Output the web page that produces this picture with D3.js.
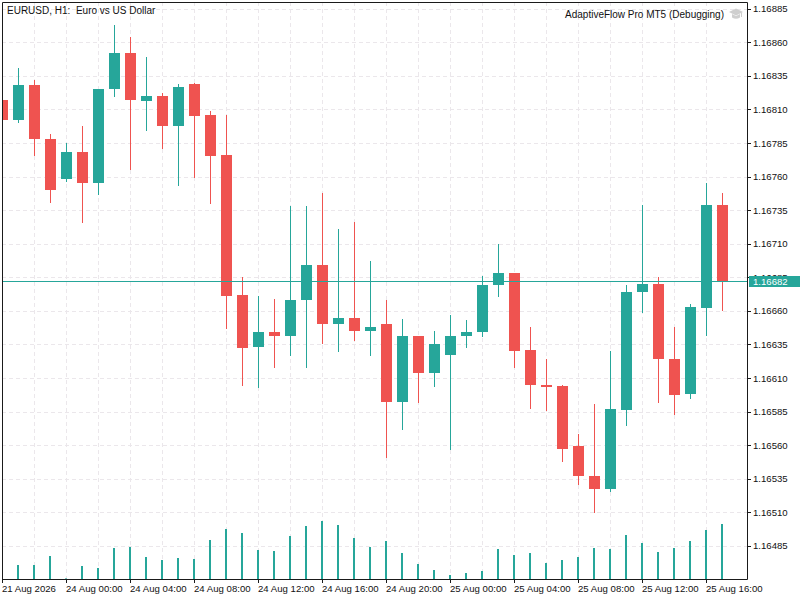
<!DOCTYPE html>
<html>
<head>
  <style>
    body {
      margin: 0;
      background: white;
    }
    svg text {
      font-family: "Liberation Sans", Arial, sans-serif;
      fill: #111;
    }
  </style>
</head>
<body>
  <div id="chart"></div>
  <script src="https://d3js.org/d3.v7.min.js"></script>
  <script>
    var width = 800, height = 600;

    // EURUSD H1 bars, first one is 21 Aug 20:00
    var opens  = [1.16817,1.16802,1.16828,1.16788,1.16758,1.16778,1.16755,1.16825,1.16852,1.16816,1.16820,1.16798,1.16829,1.16806,1.16776,1.16672,1.16633,1.16644,1.16641,1.16668,1.16694,1.16650,1.16655,1.16645,1.16650,1.16592,1.16641,1.16614,1.16627,1.16641,1.16644,1.16679,1.16688,1.16631,1.16605,1.16604,1.16559,1.16537,1.16527,1.16586,1.16674,1.16680,1.16624,1.16598,1.16662,1.16739];
    var highs  = [1.16817,1.16841,1.16832,1.16792,1.16785,1.16798,1.16825,1.16873,1.16864,1.16849,1.16822,1.16829,1.16830,1.16809,1.16806,1.16685,1.16671,1.16669,1.16738,1.16738,1.16748,1.16721,1.16726,1.16697,1.16668,1.16654,1.16641,1.16645,1.16657,1.16653,1.16686,1.16710,1.16688,1.16648,1.16624,1.16605,1.16568,1.16591,1.16630,1.16679,1.16739,1.16685,1.16648,1.16665,1.16755,1.16748];
    var lows   = [1.16802,1.16801,1.16776,1.16741,1.16757,1.16726,1.16747,1.16820,1.16766,1.16795,1.16781,1.16754,1.16760,1.16740,1.16647,1.16605,1.16603,1.16618,1.16627,1.16618,1.16636,1.16630,1.16638,1.16627,1.16551,1.16572,1.16592,1.16604,1.16557,1.16633,1.16641,1.16671,1.16618,1.16588,1.16586,1.16548,1.16531,1.16510,1.16526,1.16575,1.16659,1.16592,1.16583,1.16595,1.16642,1.16661];
    var closes = [1.16802,1.16828,1.16788,1.16750,1.16778,1.16755,1.16825,1.16852,1.16817,1.16820,1.16798,1.16827,1.16805,1.16775,1.16671,1.16632,1.16644,1.16641,1.16668,1.16694,1.16650,1.16655,1.16645,1.16648,1.16592,1.16641,1.16614,1.16635,1.16641,1.16644,1.16679,1.16688,1.16630,1.16605,1.16603,1.16557,1.16537,1.16527,1.16587,1.16674,1.16680,1.16624,1.16597,1.16663,1.16739,1.16682];
    var volumes = [700,700,700,1150,30,650,550,1550,1600,1100,950,1050,1000,1950,2500,2300,1450,1400,2150,2650,2900,2700,2050,1600,1900,1300,750,450,200,300,400,1500,1200,1300,800,950,1100,1550,1500,2200,1800,1350,1550,1900,2450,2750];

    var timeTickIdx = [0,4,8,12,16,20,24,28,32,36,40,44];
    var timeTickLabels = ["21 Aug 2026","24 Aug 00:00","24 Aug 04:00","24 Aug 08:00","24 Aug 12:00","24 Aug 16:00","24 Aug 20:00","25 Aug 00:00","25 Aug 04:00","25 Aug 08:00","25 Aug 12:00","25 Aug 16:00"];
    var priceTicks = [1.16885,1.16860,1.16835,1.16810,1.16785,1.16760,1.16735,1.16710,1.16685,1.16660,1.16635,1.16610,1.16585,1.16560,1.16535,1.16510,1.16485];
    var lastPrice = 1.16682;

    var green = "#26a69a", red = "#ef5350";
    // plot frame (don't call these top/left, window.top is read-only)
    var pL = 2, pT = 2, pR = 747, pB = 579;

    var data = opens.map((o, i) => ({i: i, o: o, h: highs[i], l: lows[i], c: closes[i], v: volumes[i]}));

    var x = d3.scaleLinear().domain([0, 45]).range([2, 722]);
    var y = d3.scaleLinear().domain([1.16485, 1.16885]).range([545.85, 8.73]);
    var yVol = d3.scaleLinear().domain([0, 5000]).range([pB, pB - 100]);

    var svg = d3.select("#chart").append("svg")
        .attr("width", width).attr("height", height);

    svg.append("defs").append("clipPath").attr("id", "plot")
      .append("rect").attr("x", pL + 0.5).attr("y", pT + 0.5)
        .attr("width", pR - pL - 0.5).attr("height", pB - pT - 0.5);

    // grid
    var grid = svg.append("g").attr("stroke", "#ebe7eb").attr("stroke-dasharray", "4,3");
    grid.selectAll("line.h").data(priceTicks).enter().append("line")
        .attr("x1", pL).attr("x2", pR)
        .attr("y1", d => Math.round(y(d)) + 0.5).attr("y2", d => Math.round(y(d)) + 0.5);
    grid.selectAll("line.v").data(d3.range(2, 46, 2)).enter().append("line")
        .attr("x1", d => x(d) + 0.5).attr("x2", d => x(d) + 0.5)
        .attr("y1", pT).attr("y2", pB);

    var plot = svg.append("g").attr("clip-path", "url(#plot)");

    // volumes
    plot.selectAll("rect.vol").data(data).enter().append("rect")
        .attr("x", d => x(d.i) - 1).attr("width", 2)
        .attr("y", d => yVol(d.v)).attr("height", d => pB - yVol(d.v))
        .attr("fill", green);

    // candles
    var candle = plot.selectAll("g.candle").data(data).enter().append("g");
    candle.append("line")
        .attr("x1", d => x(d.i) + 0.5).attr("x2", d => x(d.i) + 0.5)
        .attr("y1", d => Math.round(y(d.h))).attr("y2", d => Math.round(y(d.l)) + 1)
        .attr("stroke", d => d.c >= d.o ? green : red);
    candle.append("rect")
        .attr("x", d => x(d.i) - 5).attr("width", 11)
        .attr("y", d => Math.round(y(Math.max(d.o, d.c))))
        .attr("height", d => Math.max(1, Math.round(y(Math.min(d.o, d.c))) - Math.round(y(Math.max(d.o, d.c)))))
        .attr("fill", d => d.c >= d.o ? green : red);

    // last price line
    svg.append("line")
        .attr("x1", pL).attr("x2", pR)
        .attr("y1", Math.round(y(lastPrice)) + 0.5).attr("y2", Math.round(y(lastPrice)) + 0.5)
        .attr("stroke", green);

    // frame
    svg.append("path")
        .attr("d", "M" + (pL + 0.5) + "," + (pB + 0.5) + "V" + (pT + 0.5) + "H" + (pR + 0.5) + "V" + (pB + 0.5) + "H" + (pL + 0.5))
        .attr("fill", "none").attr("stroke", "#1a1a1a");

    // price axis
    var pa = svg.append("g");
    pa.selectAll("line").data(priceTicks).enter().append("line")
        .attr("x1", pR).attr("x2", pR + 4)
        .attr("y1", d => Math.round(y(d)) + 0.5).attr("y2", d => Math.round(y(d)) + 0.5)
        .attr("stroke", "#1a1a1a");
    pa.selectAll("text").data(priceTicks).enter().append("text")
        .attr("x", pR + 6).attr("y", d => y(d) + 3.6)
        .attr("font-size", "9.6px")
        .text(d => d.toFixed(5));

    // last price label
    var ly = Math.round(y(lastPrice));
    svg.append("rect").attr("x", pR + 2).attr("y", ly - 5).attr("width", 51).attr("height", 11).attr("fill", green);
    svg.append("text").attr("x", pR + 6).attr("y", ly + 4)
        .attr("font-size", "9.6px").style("fill", "white").text(lastPrice.toFixed(5));

    // time axis
    var ta = svg.append("g");
    ta.selectAll("line").data(timeTickIdx).enter().append("line")
        .attr("x1", d => x(d) + 0.5).attr("x2", d => x(d) + 0.5)
        .attr("y1", pB).attr("y2", pB + 4)
        .attr("stroke", "#1a1a1a");
    ta.selectAll("text").data(timeTickIdx).enter().append("text")
        .attr("x", d => x(d)).attr("y", 592)
        .attr("font-size", "9.6px")
        .text((d, i) => timeTickLabels[i]);

    // titles
    svg.append("text").attr("x", 7).attr("y", 13.5).attr("font-size", "10px")
        .style("white-space", "pre").text("EURUSD, H1:  Euro vs US Dollar");
    svg.append("text").attr("x", 724).attr("y", 17.5).attr("font-size", "10px")
        .attr("text-anchor", "end").text("AdaptiveFlow Pro MT5 (Debugging)");

    // little mortarboard icon
    var icon = svg.append("g").attr("fill", "#cfcfcf");
    icon.append("path").attr("d", "M729,12 L736,8.5 L743,12 L736,15.5 Z");
    icon.append("path").attr("d", "M732,14 V17.5 Q736,20 740,17.5 V14 L736,16 Z");
    icon.append("path").attr("d", "M741.5,12.5 V17").attr("stroke", "#cfcfcf").attr("fill", "none");
  </script>
</body>
</html>
